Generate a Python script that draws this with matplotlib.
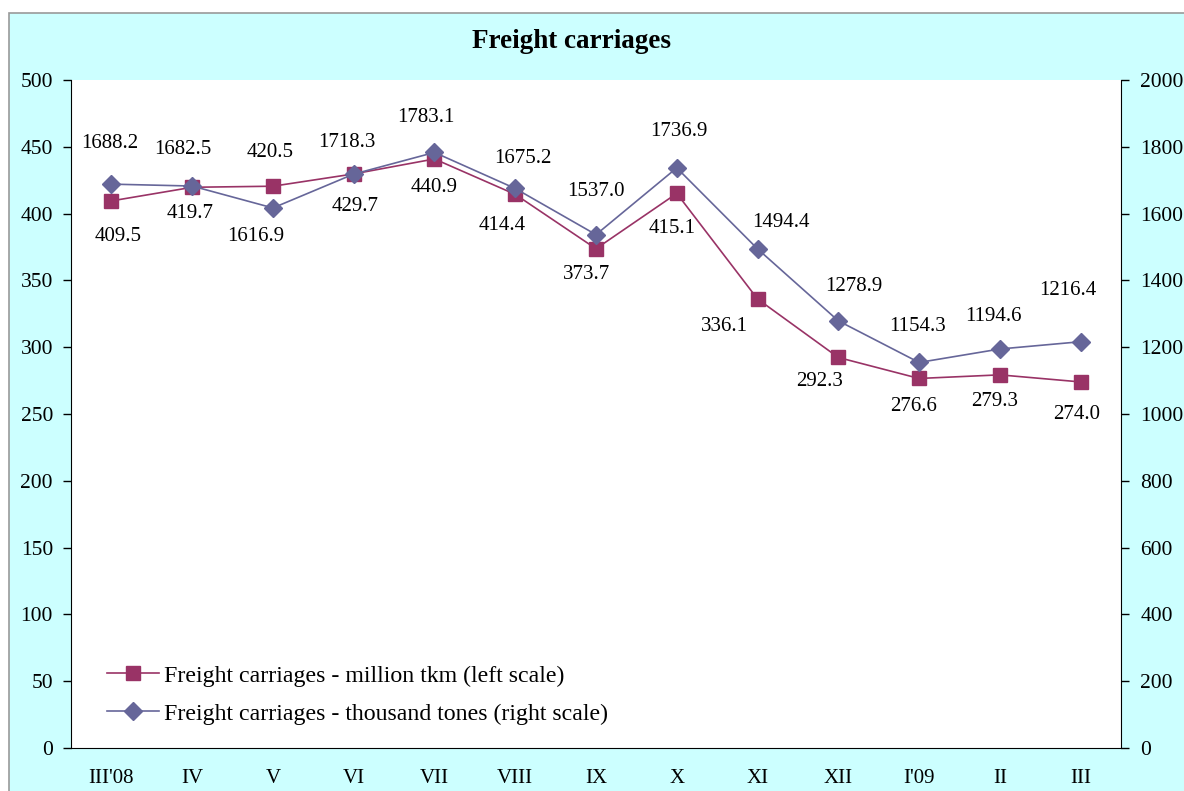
import matplotlib
matplotlib.use("Agg")
import matplotlib.pyplot as plt
from matplotlib.patches import Rectangle
from matplotlib.lines import Line2D

plt.rcParams['font.family'] = ['Liberation Serif', 'DejaVu Serif']

# данные
months = ["III'08", "IV", "V", "VI", "VII", "VIII", "IX", "X", "XI", "XII", "I'09", "II", "III"]
tkm = [409.5, 419.7, 420.5, 429.7, 440.9, 414.4, 373.7, 415.1, 336.1, 292.3, 276.6, 279.3, 274.0]
tones = [1688.2, 1682.5, 1616.9, 1718.3, 1783.1, 1675.2, 1537.0, 1736.9, 1494.4, 1278.9, 1154.3, 1194.6, 1216.4]

# сдвиги подписей (пиксели)
tkm_off = [(7, -36), (-2, -26), (-3, 34), (1, -33), (0, -29), (-13, -31), (-9, -26),
           (-5, -35), (-33, -28), (-19, -24), (-6, -28), (-5, -27), (-4, -33)]
tones_off = [(-2, 41), (-9, 37), (-17, -29), (-7, 32), (-9, 35), (8, 30), (0, 43),
             (2, 36), (23, 26), (15, 34), (-2, 36), (-6, 33), (-13, 51)]

c_tkm = '#993366'
c_tones = '#666699'

fig = plt.figure(figsize=(11.84, 7.91), dpi=100)
fig.patch.set_facecolor('white')
fig.patches.append(Rectangle((9 / 1184, -0.01), 1.0, (791 - 13) / 791 + 0.01,
                             transform=fig.transFigure, facecolor='#CCFFFF',
                             edgecolor='#999999', linewidth=1.2, zorder=-10))

ax = fig.add_axes([71 / 1184, 43 / 791, 1050 / 1184, 668 / 791])
ax.set_facecolor('white')
ax2 = ax.twinx()

x = list(range(len(months)))
ax.plot(x, tkm, color=c_tkm, lw=1.2, marker='s', ms=10, mec=c_tkm, zorder=3)
ax2.plot(x, tones, color=c_tones, lw=1.2, marker='D', ms=9.5, mec=c_tones, zorder=4)

ax.set_xlim(-0.5, len(months) - 0.5)
ax.set_ylim(0, 500)
ax2.set_ylim(0, 2000)
ax.set_yticks(range(0, 501, 50))
ax2.set_yticks(range(0, 2001, 200))
ax.set_xticks(x)
ax.set_xticklabels(months)

ax.tick_params(axis='y', direction='out', length=6, width=1, pad=7, labelsize=15.5)
ax2.tick_params(axis='y', direction='out', length=6, width=1, pad=8, labelsize=15.5)
ax.tick_params(axis='x', length=0, pad=15, labelsize=15)

for a in (ax, ax2):
    a.spines['top'].set_visible(False)
ax.spines['right'].set_visible(False)
ax2.spines['left'].set_visible(False)
ax2.spines['bottom'].set_visible(False)

for i, v in enumerate(tkm):
    ax.annotate(f'{v:.1f}', (x[i], v), xytext=tkm_off[i], textcoords='offset pixels',
                ha='center', va='center', fontsize=15, zorder=5)
for i, v in enumerate(tones):
    ax2.annotate(f'{v:.1f}', (x[i], v), xytext=tones_off[i], textcoords='offset pixels',
                 ha='center', va='center', fontsize=15, zorder=5)

fig.text(571 / 1184, 1 - 41 / 791, 'Freight carriages', ha='center', va='center',
         fontsize=19.5, fontweight='bold')

handles = [
    Line2D([], [], color=c_tkm, lw=1.2, marker='s', ms=10),
    Line2D([], [], color=c_tones, lw=1.2, marker='D', ms=9.5),
]
labels = ['Freight carriages - million tkm (left scale)',
          'Freight carriages - thousand tones (right scale)']
ax2.legend(handles, labels, loc='lower left', bbox_to_anchor=(0.034, 0.035),
           frameon=False, fontsize=17.2, borderpad=0, borderaxespad=0,
           handlelength=2.2, handletextpad=0.2, labelspacing=0.68)

fig.savefig('out.png', dpi=100)
